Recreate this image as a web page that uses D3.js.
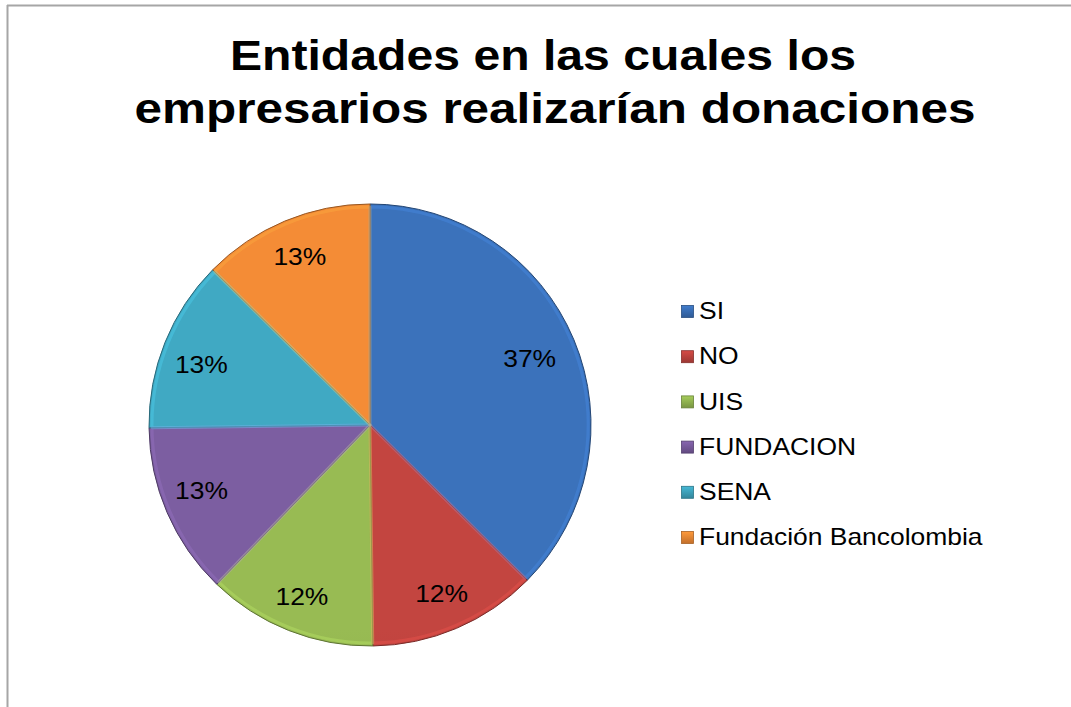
<!DOCTYPE html>
<meta charset="utf-8">
<style>
body { margin: 0; background: #fff; }
svg text { font-family: Arial, "Liberation Sans", sans-serif; }
</style>
<body>
<script src="https://cdn.jsdelivr.net/npm/d3@7"></script>
<script>

// data (percent shares)
var categories = ["SI", "NO", "UIS", "FUNDACION", "SENA", "Fundación Bancolombia"];
var values = [37.4, 12.4, 12.4, 12.6, 12.6, 12.6];
var colors = ["#3a70b8", "#c0443f", "#95b852", "#7a5c9e", "#3fa6c0", "#f08a35"];
var titleLines = ["Entidades en las cuales los", "empresarios realizarían donaciones"];

var width = 1071, height = 707;
var cx = 370, cy = 425, radius = 221;
var sx = 1.15; // text in the original is stretched horizontally

var svg = d3.select("body").append("svg")
    .attr("width", width)
    .attr("height", height);

// chart frame (only top and left edges visible)
svg.append("line").attr("x1", 7).attr("y1", 5.5).attr("x2", width).attr("y2", 5.5)
    .attr("stroke", "#a6a6a6").attr("stroke-width", 2);
svg.append("line").attr("x1", 7.5).attr("y1", 5).attr("x2", 7.5).attr("y2", height)
    .attr("stroke", "#a6a6a6").attr("stroke-width", 2);

// title
var titlePos = [[543, 70], [555, 123]];
svg.selectAll("text.title")
    .data(titleLines)
  .enter().append("text")
    .attr("class", "title")
    .attr("transform", function(d, i) {
      return "translate(" + titlePos[i][0] + "," + titlePos[i][1] + ") scale(" + (i ? sx : 1.12) + ",1)";
    })
    .attr("text-anchor", "middle")
    .style("font-size", "43px")
    .style("font-weight", "bold")
    .attr("fill", "#000")
    .text(function(d) { return d; });

// gradients for the excel-like shading
var defs = svg.append("defs");
colors.forEach(function(c, i) {
  var g = defs.append("linearGradient")
      .attr("id", "grad" + i)
      .attr("gradientUnits", "userSpaceOnUse")
      .attr("x1", 0).attr("y1", cy - radius)
      .attr("x2", 0).attr("y2", cy + radius);
  g.append("stop").attr("offset", "0%").attr("stop-color", d3.color(c).brighter(0.05));
  g.append("stop").attr("offset", "100%").attr("stop-color", d3.color(c).darker(0.7));
  var lg = defs.append("linearGradient").attr("id", "lg" + i)
      .attr("x1", 0).attr("y1", 0).attr("x2", 0).attr("y2", 1);
  lg.append("stop").attr("offset", "0%").attr("stop-color", d3.color(c).brighter(0.3));
  lg.append("stop").attr("offset", "100%").attr("stop-color", d3.color(c).darker(0.6));
});

var pie = d3.pie().sort(null).value(function(d) { return d; });
var arc = d3.arc().innerRadius(0).outerRadius(radius);

var g = svg.append("g").attr("transform", "translate(" + cx + "," + cy + ")");
var arcs = pie(values);

g.selectAll("path.slice")
    .data(arcs)
  .enter().append("path")
    .attr("class", "slice")
    .attr("d", arc)
    .attr("fill", function(d, i) { return "url(#grad" + i + ")"; })
    .attr("stroke", function(d, i) { return d3.color(colors[i]).darker(1.3); })
    .attr("stroke-width", 1);

// inner bevel highlight
g.selectAll("path.bevel")
    .data(arcs)
  .enter().append("path")
    .attr("class", "bevel")
    .attr("d", d3.arc().innerRadius(0).outerRadius(radius - 3))
    .attr("fill", "none")
    .attr("stroke", function(d, i) { return d3.color(colors[i]).brighter(0.8); })
    .attr("stroke-opacity", 0.3)
    .attr("stroke-width", 3)
    .attr("stroke-linejoin", "round");

// label placement: slightly pulled toward the horizontal for side slices
var labelRadius = [173, 183, 185, 181, 179, 182];
var labelShift = [0, 0, 0, 0.035, -0.042, 0];
g.selectAll("text.lbl")
    .data(arcs)
  .enter().append("text")
    .attr("class", "lbl")
    .attr("transform", function(d, i) {
      var r = labelRadius[i];
      var a = (d.startAngle + d.endAngle) / 2 + labelShift[i];
      return "translate(" + (Math.sin(a) * r) + "," + (-Math.cos(a) * r) + ") scale(" + sx + ",1)";
    })
    .attr("text-anchor", "middle")
    .attr("dy", "0.36em")
    .style("font-size", "23px")
    .attr("fill", "#000")
    .text(function(d) { return Math.round(d.data) + "%"; });

// legend
var legend = svg.append("g").attr("transform", "translate(681,311)");
var rows = legend.selectAll("g")
    .data(categories)
  .enter().append("g")
    .attr("transform", function(d, i) { return "translate(0," + (i * 45.2) + ")"; });

rows.append("rect")
    .attr("x", 0.5).attr("y", -5.5)
    .attr("width", 12).attr("height", 12)
    .attr("fill", function(d, i) { return "url(#lg" + i + ")"; })
    .attr("stroke", function(d, i) { return d3.color(colors[i]).darker(1); })
    .attr("stroke-width", 0.8);

rows.append("text")
    .attr("transform", "translate(18,0) scale(" + sx + ",1)")
    .attr("dy", "0.36em")
    .style("font-size", "23px")
    .attr("fill", "#000")
    .text(function(d) { return d; });

</script>
</body>
